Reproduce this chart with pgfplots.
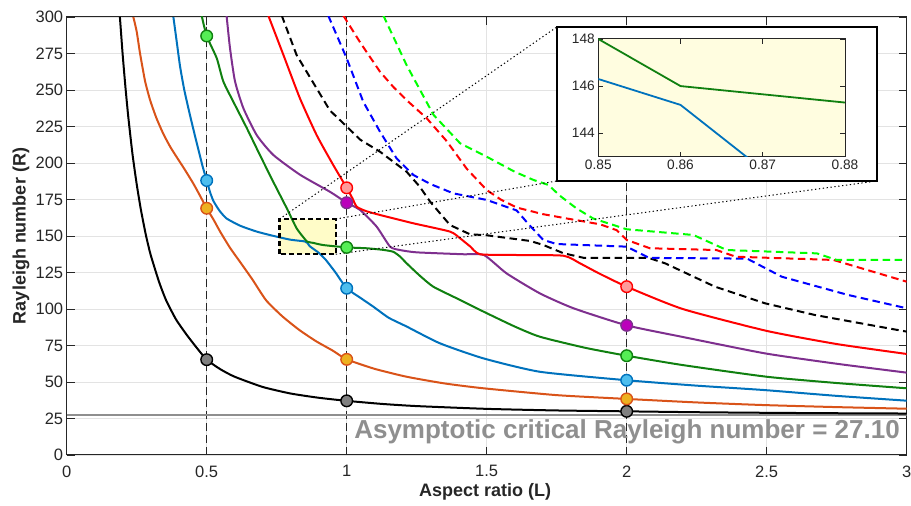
\documentclass[border=0pt]{standalone}
\usepackage{fontspec}
\setmainfont{Liberation Sans}
\usepackage{pgfplots}
\pgfplotsset{compat=1.18}
\definecolor{mOrange}{HTML}{D95319}
\definecolor{mOrangeF}{HTML}{EDB120}
\definecolor{mBlue}{HTML}{0072BD}
\definecolor{mBlueF}{HTML}{4DBEEE}
\definecolor{dGreen}{HTML}{108010}
\definecolor{dGreenF}{HTML}{55EE55}
\definecolor{mPurple}{HTML}{7E2F8E}
\definecolor{mPurpleF}{HTML}{BB00BB}
\definecolor{mRedF}{HTML}{FF9A9A}
\definecolor{lGreen}{HTML}{00FF00}
\definecolor{rectY}{HTML}{FFFCC8}
\definecolor{insY}{HTML}{FFFDE0}
\definecolor{gridC}{HTML}{E3E3E3}
\definecolor{axC}{HTML}{262626}
\definecolor{asymC}{HTML}{8F8F8F}
\begin{document}
\begin{tikzpicture}
\path[use as bounding box] (-66.7pt,-51pt) rectangle (844.3pt,455pt);
\begin{axis}[
  at={(0pt,0pt)}, anchor=south west,
  width=840pt, height=438pt, scale only axis,
  xmin=0, xmax=3, ymin=0, ymax=300,
  xtick={0,0.5,1,1.5,2,2.5,3},
  xticklabels={0,0.5,1,1.5,2,2.5,3},
  ytick={0,25,50,75,100,125,150,175,200,225,250,275,300},
  grid=major,
  major grid style={color=gridC, line width=0.8pt},
  axis line style={color=axC, line width=1pt},
  tick align=inside, major tick length=8pt,
  tick style={color=axC, line width=0.8pt},
  /pgf/number format/assume math mode=true,
  ticklabel style={font=\fontsize{16.5}{18}\selectfont, color=axC},
  xticklabel style={yshift=-7pt},
  xlabel={Aspect ratio (L)},
  ylabel={Rayleigh number (R)},
  label style={font=\fontsize{18}{20}\selectfont\bfseries, color=axC},
  xlabel style={at={(axis description cs:0.498,-0.0845)}, anchor=center},
  ylabel style={at={(axis description cs:-0.0544,0.5)}, anchor=center},
  sol/.style={line width=2pt, smooth, tension=0.35},
  dsh/.style={line width=2pt, dash pattern=on 7.5pt off 4.5pt},
]
% zoom rectangle fill
\fill[rectY] (axis cs:0.76,137.5) rectangle (axis cs:0.961,161.6);
% vertical reference lines
\addplot[black!85, line width=0.8pt, dash pattern=on 8pt off 4pt] coordinates {(0.5,0) (0.5,300)};
\addplot[black!85, line width=0.8pt, dash pattern=on 8pt off 4pt] coordinates {(1,0) (1,300)};
\addplot[black!85, line width=0.8pt, dash pattern=on 8pt off 4pt] coordinates {(2,0) (2,300)};
% asymptote
\addplot[asymC, line width=2pt] coordinates {(0,27.1) (3,27.1)};
% dashed curves
\addplot[black, dsh] coordinates {
(0.768,301) (0.821,274) (0.893,251) (0.94,236) (1,225) (1.048,216) (1.119,207.7) (1.214,194) (1.26,184) (1.298,173.5) (1.369,157.5) (1.44,151.2) (1.5,150.5) (1.655,146.6) (1.7,144) (1.774,138.2) (1.845,135.1) (2.077,135.1) (2.137,131.3) (2.315,115.3) (2.494,103.9) (2.672,95.9) (3,84.5)};
\addplot[blue, dsh] coordinates {
(0.934,301) (1,271.7) (1.059,242) (1.119,221.4) (1.178,203.2) (1.238,191.8) (1.3,185.5) (1.381,179.2) (1.5,174.7) (1.607,167.5) (1.65,158) (1.702,147.3) (1.75,144.5) (2,142.7) (2.08,135) (2.43,134.5) (2.554,122.1) (2.791,109.6) (3,100.5)};
\addplot[red, dsh] coordinates {
(0.988,301) (1.05,282) (1.119,262.5) (1.167,252) (1.22,242) (1.286,230.6) (1.357,215) (1.429,196) (1.5,181.5) (1.55,175) (1.607,169.5) (1.7,165) (1.786,162) (1.905,158) (1.964,154) (2,147.3) (2.083,141.6) (2.32,140.4) (2.39,135.8) (2.738,133.6) (3,118.7)};
\addplot[lGreen, dsh] coordinates {
(1.131,301) (1.214,267) (1.31,233) (1.405,213.5) (1.5,204.3) (1.6,194) (1.667,188.4) (1.72,185) (1.762,177.5) (1.82,169) (1.88,162) (2,154.6) (2.238,150.7) (2.357,140.4) (2.679,138.1) (2.75,133.6) (3,133.6)};
% solid curves
\addplot[black, sol] coordinates {
(0.19,300) (0.2,274) (0.21,251.5) (0.22,231.5) (0.235,206) (0.25,185.5) (0.265,168) (0.283,150.5) (0.3,137) (0.33,118.5) (0.355,106) (0.39,93) (0.426,83) (0.46,74.5) (0.5,65.3) (0.55,58.6) (0.6,53.6) (0.7,46.6) (0.8,42.1) (0.9,39.2) (1,37.1) (1.125,35) (1.25,33.5) (1.5,31.6) (1.75,30.5) (2,29.9) (2.25,29.3) (2.5,28.9) (2.75,28.6) (3,28.4)};
\addplot[mOrange, sol] coordinates {
(0.238,300) (0.25,290) (0.262,275) (0.28,256) (0.298,243) (0.32,231) (0.345,220) (0.37,211) (0.393,204) (0.42,196) (0.452,186) (0.475,178) (0.5,169) (0.525,161) (0.548,153) (0.583,142) (0.62,132) (0.664,120) (0.712,106) (0.77,95) (0.831,85.6) (0.89,78) (0.95,71.5) (1,65.5) (1.1,59) (1.214,53.6) (1.35,49) (1.488,45.7) (1.75,41) (2,38.4) (2.25,36) (2.49,34.2) (2.75,32.8) (3,31.7)};
\addplot[mBlue, sol] coordinates {
(0.381,300) (0.393,283) (0.405,266) (0.42,250) (0.44,233) (0.464,214) (0.485,198) (0.5,188) (0.512,180) (0.524,174) (0.545,167.5) (0.571,162) (0.62,157) (0.679,153) (0.74,150) (0.798,147.5) (0.85,146.3) (0.86,145.2) (0.868,143) (0.9,138.5) (0.926,133.5) (0.96,125) (1,114.2) (1.05,107.5) (1.095,101.6) (1.15,94) (1.214,88) (1.333,76.5) (1.488,66.2) (1.69,57) (2,51.2) (2.25,47.5) (2.49,44.5) (2.75,40.5) (3,37.2)};
\addplot[dGreen, sol] coordinates {
(0.482,301) (0.5,287) (0.536,271.7) (0.559,256) (0.595,242) (0.643,224) (0.69,205.5) (0.738,187) (0.786,169) (0.821,155.3) (0.85,148) (0.86,146) (0.88,145.3) (0.916,143.8) (1,142.2) (1.071,141.6) (1.13,140.5) (1.166,139.2) (1.19,136) (1.214,131.3) (1.26,123) (1.309,115.3) (1.393,107.3) (1.48,99) (1.6,88) (1.69,81) (1.85,73.5) (2,68) (2.2,61.6) (2.5,53.6) (2.75,49.3) (3,45.7)};
\addplot[mPurple, sol] coordinates {
(0.571,301) (0.583,279) (0.601,256) (0.631,237.5) (0.679,219) (0.738,205.5) (0.833,192) (0.94,180.3) (1,172.8) (1.048,167.8) (1.107,156.4) (1.155,142.7) (1.19,140.4) (1.25,138.8) (1.416,137.5) (1.49,137) (1.571,124.4) (1.69,110.7) (1.81,100.5) (2,88.8) (2.196,81) (2.494,69.6) (2.75,62.5) (3,56.4)};
\addplot[red, sol] coordinates {
(0.72,301) (0.774,274) (0.833,244.3) (0.893,219) (0.952,198.6) (1,183) (1.02,176) (1.036,170) (1.07,167) (1.119,164.4) (1.238,158.7) (1.369,153) (1.405,148.4) (1.44,143) (1.476,137.5) (1.6,137) (1.774,136.5) (1.833,131.3) (1.9,124.5) (2,115.3) (2.2,100) (2.5,85) (2.75,76) (3,69.2)};
% rectangle border
\draw[black, line width=2.2pt, dash pattern=on 5pt off 3pt] (axis cs:0.76,137.5) rectangle (axis cs:0.961,161.6);
% markers
\addplot[only marks, mark=*, mark size=5.8pt, mark options={draw=black, fill=gray, line width=1.4pt}] coordinates {(0.5,65.3) (1,37.1) (2,29.9)};
\addplot[only marks, mark=*, mark size=5.8pt, mark options={draw=mOrange, fill=mOrangeF, line width=1.4pt}] coordinates {(0.5,169) (1,65.5) (2,38.4)};
\addplot[only marks, mark=*, mark size=5.8pt, mark options={draw=mBlue, fill=mBlueF, line width=1.4pt}] coordinates {(0.5,188) (1,114.2) (2,51.2)};
\addplot[only marks, mark=*, mark size=5.8pt, mark options={draw=dGreen, fill=dGreenF, line width=1.4pt}] coordinates {(0.5,287) (1,142.2) (2,68)};
\addplot[only marks, mark=*, mark size=5.8pt, mark options={draw=mPurple, fill=mPurpleF, line width=1.4pt}] coordinates {(1,172.8) (2,88.8)};
\addplot[only marks, mark=*, mark size=5.8pt, mark options={draw=red, fill=mRedF, line width=1.4pt}] coordinates {(1,183) (2,115.3)};
% connector lines
\draw[black, line width=1pt, dash pattern=on 1.3pt off 2.6pt] (axis cs:0.76,161.6) -- (axis cs:1.751,293.2);
\draw[black, line width=1pt, dash pattern=on 1.3pt off 2.6pt] (axis cs:0.961,161.6) -- (axis cs:1.751,187.7);
\draw[black, line width=1pt, dash pattern=on 1.3pt off 2.6pt] (axis cs:0.961,137.5) -- (axis cs:2.894,187.7);
% inset frame
\filldraw[fill=white, draw=black, line width=1.2pt] (axis cs:1.751,187.7) rectangle (axis cs:2.894,293.2);
% annotation
\node[anchor=base east, text=asymC, font=\fontsize{26}{30}\selectfont\bfseries, inner sep=0pt] at (axis cs:2.976,10.96) {Asymptotic critical Rayleigh number = 27.10};
\end{axis}
\begin{axis}[
  at={(531.6pt,298.3pt)}, anchor=south west,
  width=246.7pt, height=117.7pt, scale only axis,
  xmin=0.85, xmax=0.88, ymin=143, ymax=148,
  xtick={0.85,0.86,0.87,0.88},
  xticklabels={0.85,0.86,0.87,0.88},
  ytick={144,146,148},
  axis background/.style={fill=insY},
  axis line style={color=axC, line width=1pt},
  tick align=inside, major tick length=5pt,
  tick style={color=axC, line width=0.8pt},
  /pgf/number format/assume math mode=true,
  ticklabel style={font=\fontsize{13.7}{15}\selectfont, color=axC},
]
\addplot[dGreen, line width=1.8pt] coordinates {(0.85,148) (0.86,146) (0.88,145.3)};
\addplot[mBlue, line width=1.8pt] coordinates {(0.85,146.3) (0.86,145.2) (0.868,143) (0.87,142.45)};
\end{axis}
\end{tikzpicture}
\end{document}
